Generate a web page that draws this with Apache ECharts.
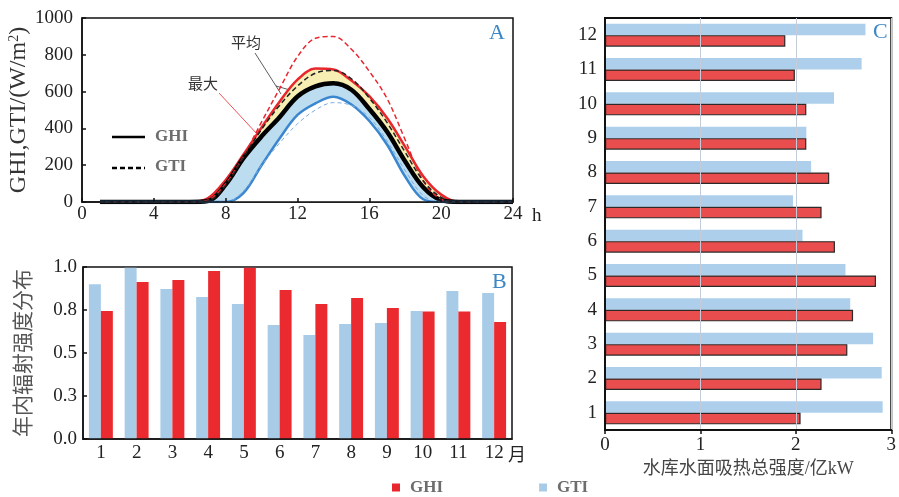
<!DOCTYPE html>
<html>
<head>
<meta charset="utf-8">
<script src="https://cdn.jsdelivr.net/npm/echarts/dist/echarts.min.js"></script>
<style>
  html, body { margin: 0; padding: 0; background: #fff; }
  #chart { width: 899px; height: 497px; }
</style>
</head>
<body>
<div id="chart"></div>
<script>
  // panel A: daily radiation curves (W/m2), hours 1..24
  var hours = [1,2,3,4,5,6,7,8,9,10,11,12,13,14,15,16,17,18,19,20,21,22,23,24]
  var ghiMax  = [0,0,0,0,0,0,20,120,260,405,545,665,725,720,660,575,455,300,140,40,0,0,0,0]
  var gtiMax  = [0,0,0,0,0,0,10,100,250,435,615,790,890,900,830,710,560,337,115,15,0,0,0,0]
  var ghiMean = [0,0,0,0,0,0,5,95,240,357,461,573,628,645,610,505,380,220,80,10,0,0,0,0]
  var gtiMean = [0,0,0,0,0,0,5,90,245,395,525,630,700,715,670,565,430,270,115,25,0,0,0,0]
  var ghiMin  = [0,0,0,0,0,0,0,0,50,200,345,473,536,572,530,440,310,137,15,0,0,0,0,0]
  var gtiMin  = [0,0,0,0,0,0,0,0,60,200,320,425,500,540,525,460,330,170,35,0,0,0,0,0]

  // panel B: monthly distribution
  var months = ['1','2','3','4','5','6','7','8','9','10','11','12']
  var distGTI = [0.90,0.995,0.872,0.826,0.785,0.663,0.605,0.669,0.674,0.744,0.861,0.849]
  var distGHI = [0.744,0.913,0.924,0.977,0.995,0.866,0.785,0.820,0.762,0.742,0.742,0.680]

  // panel C: total heat absorption (亿kW)
  var heatGTI = [2.91,2.90,2.81,2.57,2.52,2.07,1.97,2.16,2.11,2.40,2.69,2.73]
  var heatGHI = [2.05,2.27,2.54,2.60,2.84,2.41,2.27,2.35,2.11,2.11,1.99,1.89]

  var serif = "'Liberation Serif', 'Noto Sans CJK SC', serif"
  var cjk = "'Noto Sans CJK SC', sans-serif"
  var red = '#e8262d'
  var blue = '#3a86cf'

  function pairs(arr) {
    return hours.map(function (h, i) { return [h, arr[i]] })
  }
  function curve(name, arr, color, width, type, area) {
    var s = {
      name: name,
      type: 'line',
      xAxisIndex: 0,
      yAxisIndex: 0,
      data: pairs(arr),
      smooth: 0.35,
      symbol: 'none',
      lineStyle: { color: color, width: width, type: type },
      silent: true
    }
    if (area) s.areaStyle = { color: area, opacity: 1 }
    return s
  }
  function tickLabel() {
    return { color: '#222', fontFamily: serif, fontSize: 19 }
  }

  var chart = echarts.init(document.getElementById('chart'), null, { renderer: 'canvas' })
  chart.setOption({
    animation: false,
    backgroundColor: '#fff',
    grid: [
      { left: 82, top: 18, width: 431, height: 184, show: true, borderColor: '#111', borderWidth: 1.5, backgroundColor: 'transparent' },
      { left: 83, top: 267, width: 429, height: 172, show: true, borderColor: '#111', borderWidth: 1.5, backgroundColor: 'transparent' },
      { left: 605, top: 18, width: 289, height: 412, show: true, borderColor: '#111', borderWidth: 2, backgroundColor: 'transparent' }
    ],
    xAxis: [
      {
        gridIndex: 0, type: 'value', min: 0, max: 24, interval: 4, z: 10,
        axisLine: { show: true, lineStyle: { color: '#111', width: 1.5 } },
        axisTick: { show: true, inside: true, length: 4, lineStyle: { color: '#111', width: 1.5 } },
        axisLabel: Object.assign(tickLabel(), { margin: 3 }),
        splitLine: { show: false }
      },
      {
        gridIndex: 1, type: 'category', data: months, z: 10,
        axisLine: { show: true, lineStyle: { color: '#111', width: 1.5 } },
        axisTick: { show: false },
        axisLabel: Object.assign(tickLabel(), { margin: 5, interval: 0 }),
        splitLine: { show: false }
      },
      {
        gridIndex: 2, type: 'value', min: 0, max: 3, interval: 1, z: 10,
        name: '水库水面吸热总强度/亿kW', nameLocation: 'middle', nameGap: 27,
        nameTextStyle: { fontFamily: serif, fontSize: 18, color: '#444' },
        axisLine: { show: true, lineStyle: { color: '#111', width: 2 } },
        axisTick: { show: true, inside: false, length: 4, lineStyle: { color: '#111', width: 1.5 } },
        axisLabel: Object.assign(tickLabel(), { margin: 6 }),
        splitLine: { show: true, lineStyle: { color: '#c3ccd8', width: 1 } }
      }
    ],
    yAxis: [
      {
        gridIndex: 0, type: 'value', min: 0, max: 1000, interval: 200, z: 10,
        name: 'GHI,GTI/(W/m{sup|2})', nameLocation: 'middle', nameGap: 50, nameRotate: 90,
        nameTextStyle: {
          fontFamily: serif, fontSize: 24, color: '#333',
          rich: { sup: { fontFamily: serif, fontSize: 14, color: '#333', verticalAlign: 'top' } }
        },
        axisLine: { show: true, lineStyle: { color: '#111', width: 1.5 } },
        axisTick: { show: true, inside: true, length: 4, lineStyle: { color: '#111', width: 1.5 } },
        axisLabel: Object.assign(tickLabel(), {
          margin: 9,
          formatter: function (v) { return String(v) }
        }),
        splitLine: { show: false }
      },
      {
        gridIndex: 1, type: 'value', min: 0, max: 1, interval: 0.25, z: 10,
        name: '年内辐射强度分布', nameLocation: 'middle', nameGap: 50, nameRotate: 90,
        nameTextStyle: { fontFamily: cjk, fontSize: 21, color: '#555' },
        axisLine: { show: true, lineStyle: { color: '#111', width: 1.5 } },
        axisTick: { show: true, inside: true, length: 4, lineStyle: { color: '#111', width: 1.5 } },
        axisLabel: Object.assign(tickLabel(), {
          margin: 6,
          formatter: function (v) { return v.toFixed(1) }
        }),
        splitLine: { show: false }
      },
      {
        gridIndex: 2, type: 'category', data: months, z: 10,
        axisLine: { show: true, lineStyle: { color: '#111', width: 2 } },
        axisTick: { show: false },
        axisLabel: Object.assign(tickLabel(), { margin: 8, interval: 0 }),
        splitLine: { show: false }
      }
    ],
    legend: {
      left: 387, top: 474,
      itemWidth: 8, itemHeight: 8, itemGap: 96,
      icon: 'rect',
      selectedMode: false,
      textStyle: { fontFamily: serif, fontWeight: 'bold', fontSize: 17, color: '#6d6d6d', padding: [0, 0, 0, 5] },
      data: [
        { name: 'GHI', itemStyle: { color: '#e8262d', borderWidth: 0 } },
        { name: 'GTI', itemStyle: { color: '#a8cce8', borderWidth: 0 } }
      ]
    },
    series: [
      // panel A, filled bands first, dashed curves on top
      curve('最大GHI', ghiMax, red, 2.5, 'solid', '#f6eeb2'),
      curve('平均GHI', ghiMean, '#000', 4.5, 'solid', '#bcdcf0'),
      curve('最小GHI', ghiMin, blue, 2.5, 'solid', '#ffffff'),
      curve('最大GTI', gtiMax, red, 1.5, [5, 3]),
      curve('平均GTI', gtiMean, '#222', 1.5, [5, 3]),
      curve('最小GTI', gtiMin, '#78abe0', 1, [4, 3]),

      // panel B
      {
        name: 'GTI', type: 'bar', xAxisIndex: 1, yAxisIndex: 1, data: distGTI,
        barGap: '0%', barCategoryGap: '33%',
        itemStyle: { color: '#a8cce8' }
      },
      {
        name: 'GHI', type: 'bar', xAxisIndex: 1, yAxisIndex: 1, data: distGHI,
        barGap: '0%', barCategoryGap: '33%',
        itemStyle: { color: '#eb2a30' }
      },

      // panel C (first series sits on top within each row)
      {
        name: 'GTI', type: 'bar', xAxisIndex: 2, yAxisIndex: 2, data: heatGTI,
        barGap: '0%', barCategoryGap: '33%',
        itemStyle: { color: '#a6cbea', opacity: 0.92 }
      },
      {
        name: 'GHI', type: 'bar', xAxisIndex: 2, yAxisIndex: 2, data: heatGHI,
        barGap: '0%', barCategoryGap: '33%',
        itemStyle: { color: '#e84343', borderColor: '#222', borderWidth: 1.2, opacity: 0.95 }
      }
    ],
    graphic: [
      // panel A in-plot legend
      { type: 'line', shape: { x1: 112, y1: 137, x2: 145, y2: 137 }, style: { stroke: '#000', lineWidth: 2.5 } },
      { type: 'text', left: 155, top: 128, style: { text: 'GHI', font: 'bold 17px ' + serif, fill: '#6d6d6d' } },
      { type: 'line', shape: { x1: 112, y1: 168, x2: 145, y2: 168 }, style: { stroke: '#000', lineWidth: 2.5, lineDash: [5, 3] } },
      { type: 'text', left: 155, top: 158, style: { text: 'GTI', font: 'bold 17px ' + serif, fill: '#6d6d6d' } },

      // annotations
      { type: 'text', left: 231, top: 35, style: { text: '平均', font: '15px ' + cjk, fill: '#333' } },
      { type: 'line', shape: { x1: 255, y1: 53, x2: 276, y2: 86 }, style: { stroke: '#333', lineWidth: 0.8 } },
      { type: 'line', shape: { x1: 276, y1: 86, x2: 281, y2: 94 }, style: { stroke: '#333', lineWidth: 0.8 } },
      { type: 'line', shape: { x1: 276, y1: 86, x2: 290, y2: 90 }, style: { stroke: '#333', lineWidth: 0.8 } },
      { type: 'text', left: 188, top: 76, style: { text: '最大', font: '15px ' + cjk, fill: '#333' } },
      { type: 'line', shape: { x1: 219, y1: 93, x2: 258, y2: 135 }, style: { stroke: red, lineWidth: 0.8 } },
      { type: 'text', left: 348, top: 164, style: { text: '最小', font: '15px ' + cjk, fill: '#333' } },
      { type: 'line', shape: { x1: 342, y1: 164, x2: 290, y2: 127 }, style: { stroke: blue, lineWidth: 0.8 } },
      { type: 'line', shape: { x1: 301, y1: 135, x2: 304, y2: 119 }, style: { stroke: blue, lineWidth: 0.8 } },

      // axis extras
      { type: 'text', left: 532, top: 207, style: { text: 'h', font: '19px ' + serif, fill: '#222' } },
      { type: 'text', left: 508, top: 445, style: { text: '月', font: '18px ' + cjk, fill: '#222' } },

      // panel letters
      { type: 'text', left: 489, top: 22, style: { text: 'A', font: '22px ' + serif, fill: '#3b86c6' } },
      { type: 'text', left: 492, top: 271, style: { text: 'B', font: '22px ' + serif, fill: '#3b86c6' } },
      { type: 'text', left: 873, top: 21, style: { text: 'C', font: '22px ' + serif, fill: '#3b86c6' } }
    ]
  })
</script>
</body>
</html>
